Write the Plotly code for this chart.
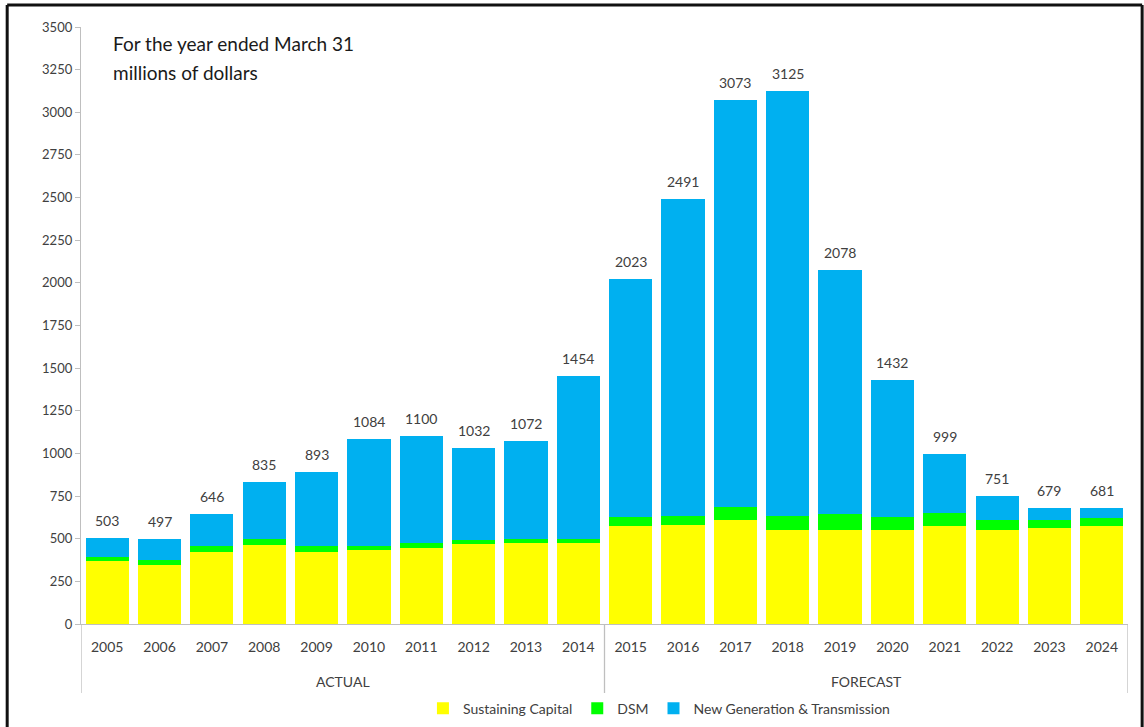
import plotly.graph_objects as go

years = [str(y) for y in range(2005, 2025)]
groups = ["ACTUAL"] * 10 + ["FORECAST"] * 10
sustaining = [370, 347, 424, 461, 424, 431, 445, 469, 474, 474,
              572, 580, 610, 551, 551, 551, 572, 551, 565, 572]
dsm = [22, 31, 36, 37, 36, 29, 29, 21, 24, 24,
       53, 55, 76, 82, 92, 74, 77, 61, 47, 50]
new_gen = [111, 119, 186, 337, 433, 624, 626, 542, 574, 956,
           1398, 1856, 2387, 2492, 1435, 807, 350, 139, 67, 59]
totals = [503, 497, 646, 835, 893, 1084, 1100, 1032, 1072, 1454,
          2023, 2491, 3073, 3125, 2078, 1432, 999, 751, 679, 681]
y_ticks = list(range(0, 3501, 250))
note_lines = ["For the year ended March 31", "millions of dollars"]

FONT = "Lato, Carlito, 'Open Sans', sans-serif"
TXT = "#404040"
AX = "#BFBFBF"

fig = go.Figure()
fig.add_trace(go.Bar(x=years, y=sustaining, name="Sustaining Capital",
                     marker=dict(color="#FFFF00", line=dict(width=0))))
fig.add_trace(go.Bar(x=years, y=dsm, name="DSM",
                     marker=dict(color="#00FF00", line=dict(width=0))))
fig.add_trace(go.Bar(x=years, y=new_gen, name="New Generation & Transmission",
                     marker=dict(color="#00B0F0", line=dict(width=0))))

annotations = []
for i, t in enumerate(totals):
    annotations.append(dict(x=i, y=t, xref="x", yref="y", text=str(t),
                            showarrow=False, yanchor="bottom", yshift=7,
                            font=dict(family=FONT, size=14, color=TXT)))

# group labels and dividers
shapes = []
unique_groups = []
for g in groups:
    if g not in unique_groups:
        unique_groups.append(g)
bounds = [-0.5]
for g in unique_groups:
    idx = [i for i, gg in enumerate(groups) if gg == g]
    center = (idx[0] + idx[-1]) / 2
    annotations.append(dict(x=center, y=-0.097, xref="x", yref="paper", text=g,
                            showarrow=False, yanchor="middle",
                            font=dict(family=FONT, size=14, color=TXT)))
    bounds.append(idx[-1] + 0.5)
for b in bounds:
    shapes.append(dict(type="line", xref="x", yref="paper", x0=b, x1=b,
                       y0=0, y1=-0.1156, line=dict(color=AX, width=1.3)))

for k, line in enumerate(note_lines):
    annotations.append(dict(x=0.029, y=0.973 - k * 0.0486, xref="paper", yref="paper",
                            text=line, showarrow=False, xanchor="left",
                            yanchor="middle", align="left",
                            font=dict(family=FONT, size=19, color="#1a1a1a")))

# outer frame
for (x0, y0, x1, y1) in [(-0.0705, 1.037, 1.0135, 1.037),
                         (-0.0705, 1.037, -0.0705, -0.25),
                         (1.0135, 1.037, 1.0135, -0.25)]:
    shapes.append(dict(type="line", xref="paper", yref="paper",
                       x0=x0, y0=y0, x1=x1, y1=y1,
                       line=dict(color="#111111", width=3)))

fig.update_layout(
    barmode="stack",
    bargap=0.175,
    width=1144, height=727,
    autosize=False,
    margin=dict(l=80.5, r=16, t=27, b=103, autoexpand=False),
    paper_bgcolor="white", plot_bgcolor="white",
    font=dict(family=FONT, size=14, color=TXT),
    showlegend=True,
    legend=dict(orientation="h", x=0.552, xanchor="center", y=-0.142,
                yanchor="middle", font=dict(family=FONT, size=14, color=TXT),
                traceorder="normal", itemwidth=30),
    annotations=annotations,
    shapes=shapes,
    xaxis=dict(type="category", range=[-0.5, 19.5], showline=True, linecolor=AX,
               linewidth=1.3, ticks="", showgrid=False, zeroline=False,
               ticklabelstandoff=10, automargin=False,
               tickfont=dict(family=FONT, size=14, color=TXT)),
    yaxis=dict(range=[0, 3500], tickvals=y_ticks, showline=True, linecolor=AX,
               linewidth=1.3, ticks="outside", ticklen=5, tickcolor=AX,
               showgrid=False, zeroline=False, automargin=False,
               tickfont=dict(family=FONT, size=13, color=TXT)),
)

fig.write_html("out.html",
               config={"displayModeBar": False, "responsive": False},
               post_script="document.body.style.margin='0';document.body.style.overflow='hidden';")
